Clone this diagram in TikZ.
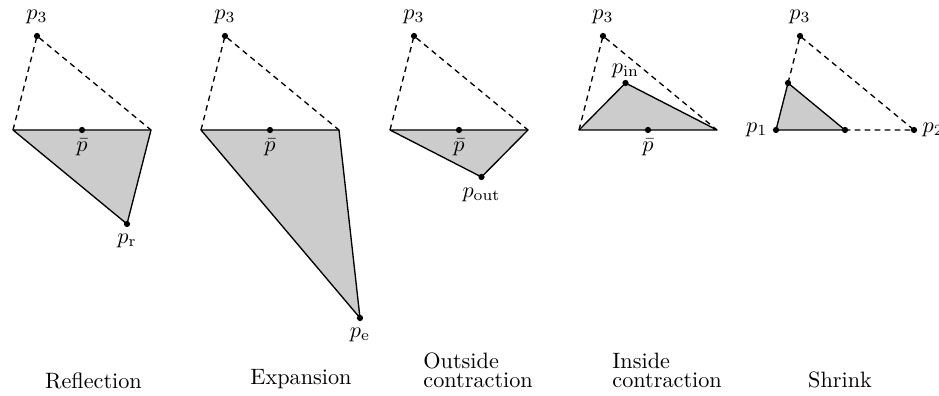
\documentclass[tikz,border=0pt]{standalone}
\usepackage{amsmath,amssymb}
\usetikzlibrary{positioning,calc}

\begin{document}
\begin{tikzpicture}[x=0.45pt, y=0.45pt, dot/.style={circle, fill, inner sep=0pt, minimum size=2.8pt}, edge/.style={line width=0.6pt, line join=round}, guide/.style={line width=0.6pt, dash pattern=on 2.5pt off 2pt}, simplex/.style={edge, fill=black!20}, caption/.style={inner sep=0pt, align=left}]
\useasboundingbox (0,0) rectangle (939,396);

% Reflection
\begin{scope}[shift={(13,266)}]
\coordinate (r1) at (0,0); \coordinate (r2) at (138,0); \coordinate (r3) at (24,94);
\coordinate (rm) at ($(r1)!0.5!(r2)$); \coordinate (rr) at ($(rm)!-1!(r3)$);
\filldraw[simplex] (r1) -- (r2) -- (rr) -- cycle;
\draw[guide] (r1) -- (r3) -- (r2);
\node[dot] (r3dot) at (r3) {}; \node[dot] (rmdot) at (rm) {}; \node[dot] (rrdot) at (rr) {};
\node[above=0.3pt of r3dot] (r3lab) {$p_3$};
\node[below=-1.2pt of rmdot] (rmlab) {$\bar{p}$};
\node[below=-0.7pt of rrdot] (rrlab) {$p_{\mathrm{r}}$};
\end{scope}

% Expansion
\begin{scope}[shift={(201,266)}]
\coordinate (e1) at (0,0); \coordinate (e2) at (138,0); \coordinate (e3) at (24,94);
\coordinate (em) at ($(e1)!0.5!(e2)$); \coordinate (ee) at ($(em)!-2!(e3)$);
\filldraw[simplex] (e1) -- (e2) -- (ee) -- cycle;
\draw[guide] (e1) -- (e3) -- (e2);
\node[dot] (e3dot) at (e3) {}; \node[dot] (emdot) at (em) {}; \node[dot] (eedot) at (ee) {};
\node[above=0.3pt of e3dot] (e3lab) {$p_3$};
\node[below=-1.2pt of emdot] (emlab) {$\bar{p}$};
\node[below=-0.7pt of eedot] (eelab) {$p_{\mathrm{e}}$};
\end{scope}

% Outside contraction
\begin{scope}[shift={(390,266)}]
\coordinate (o1) at (0,0); \coordinate (o2) at (138,0); \coordinate (o3) at (24,94);
\coordinate (om) at ($(o1)!0.5!(o2)$); \coordinate (oo) at ($(om)!-0.5!(o3)$);
\filldraw[simplex] (o1) -- (o2) -- (oo) -- cycle;
\draw[guide] (o1) -- (o3) -- (o2);
\node[dot] (o3dot) at (o3) {}; \node[dot] (omdot) at (om) {}; \node[dot] (oodot) at (oo) {};
\node[above=0.3pt of o3dot] (o3lab) {$p_3$};
\node[below=-1.2pt of omdot] (omlab) {$\bar{p}$};
\node[below=-0.2pt of oodot] (oolab) {$p_{\mathrm{out}}$};
\end{scope}

% Inside contraction
\begin{scope}[shift={(579,266)}]
\coordinate (i1) at (0,0); \coordinate (i2) at (138,0); \coordinate (i3) at (24,94);
\coordinate (im) at ($(i1)!0.5!(i2)$); \coordinate (ii) at ($(im)!0.5!(i3)$);
\filldraw[simplex] (i1) -- (i2) -- (ii) -- cycle;
\draw[guide] (i1) -- (i3) -- (i2);
\node[dot] (i3dot) at (i3) {}; \node[dot] (imdot) at (im) {}; \node[dot] (iidot) at (ii) {};
\node[above=0.3pt of i3dot] (i3lab) {$p_3$};
\node[below=-1.2pt of imdot] (imlab) {$\bar{p}$};
\node[above=-2.7pt of iidot] (iilab) {$p_{\mathrm{in}}$};
\end{scope}

% Shrink
\begin{scope}[shift={(776,266)}]
\coordinate (s1) at (0,0); \coordinate (s2) at (138,0); \coordinate (s3) at (24,94);
\coordinate (s12) at ($(s1)!0.5!(s2)$); \coordinate (s13) at ($(s1)!0.5!(s3)$);
\filldraw[simplex] (s1) -- (s12) -- (s13) -- cycle;
\draw[guide] (s13) -- (s3) -- (s2) -- (s12);
\node[dot] (s1dot) at (s1) {}; \node[dot] (s2dot) at (s2) {}; \node[dot] (s3dot) at (s3) {};
\node[dot] (s12dot) at (s12) {}; \node[dot] (s13dot) at (s13) {};
\node[above=0.3pt of s3dot] (s3lab) {$p_3$};
\node[left=-1.2pt of s1dot] (s1lab) {$p_1$};
\node[right=-1.2pt of s2dot] (s2lab) {$p_2$};
\end{scope}

% captions
\node[caption, anchor=base] (capr) at (93.5,7) {Reflection};
\node[caption, anchor=base] (cape) at (301,11) {Expansion};
\node[caption, anchor=south west] (capo) at (423,8) {Outside\\[-3.5pt]contraction};
\node[caption, anchor=south west] (capi) at (612,8) {Inside\\[-3.5pt]contraction};
\node[caption, anchor=base] (caps) at (840,8) {Shrink};
\end{tikzpicture}
\end{document}
